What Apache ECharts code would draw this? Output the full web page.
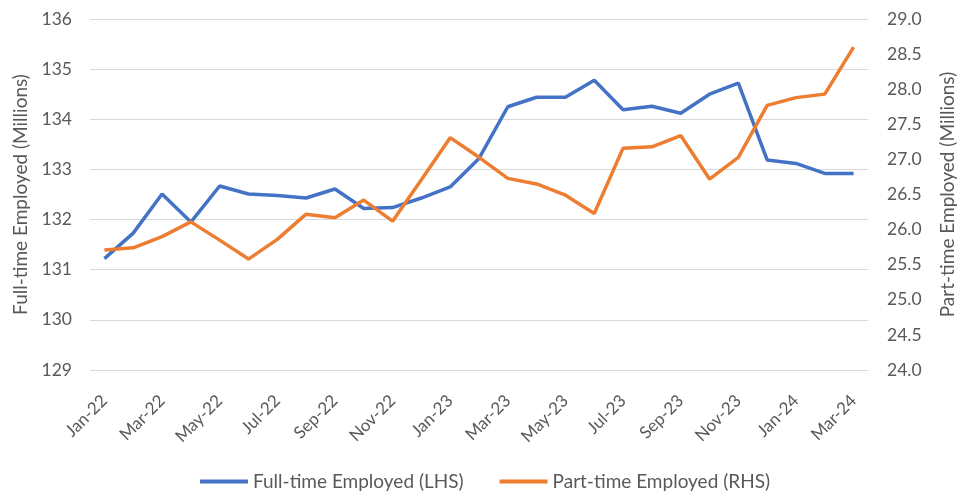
<!DOCTYPE html>
<html>
<head>
<meta charset="utf-8">
<script src="https://cdn.jsdelivr.net/npm/echarts@6/dist/echarts.min.js"></script>
<style>html,body{margin:0;padding:0;background:#fff}#c{width:965px;height:492px}</style>
</head>
<body>
<div id="c"></div>
<script>
const categories = ['Jan-22','Feb-22','Mar-22','Apr-22','May-22','Jun-22','Jul-22','Aug-22','Sep-22','Oct-22','Nov-22','Dec-22',
  'Jan-23','Feb-23','Mar-23','Apr-23','May-23','Jun-23','Jul-23','Aug-23','Sep-23','Oct-23','Nov-23','Dec-23',
  'Jan-24','Feb-24','Mar-24'];
const fullTime = [131.22,131.73,132.51,131.95,132.67,132.51,132.48,132.43,132.61,132.22,132.24,132.43,
  132.65,133.22,134.25,134.44,134.44,134.78,134.19,134.26,134.12,134.5,134.72,133.19,133.12,132.92,132.92];
const partTime = [25.71,25.74,25.9,26.11,25.85,25.58,25.86,26.22,26.17,26.42,26.12,26.71,
  27.31,27.03,26.73,26.65,26.49,26.23,27.16,27.18,27.34,26.72,27.03,27.77,27.88,27.93,28.6];
const leftTicks = [129,130,131,132,133,134,135,136];
const rightTicks = [24.0,24.5,25.0,25.5,26.0,26.5,27.0,27.5,28.0,28.5,29.0];

const font = 'Lato, "Open Sans", sans-serif';
const txt = '#595959';
const chart = echarts.init(document.getElementById('c'));
chart.setOption({
  animation: false,
  textStyle: {fontFamily: font},
  grid: {left: 90, right: 92, top: 19, bottom: 122},
  legend: {
    top: 472, left: 200, padding: 0,
    itemWidth: 48, itemHeight: 4, itemGap: 36,
    icon: 'rect',
    textStyle: {fontSize: 19, color: txt, fontFamily: font},
    data: ['Full-time Employed (LHS)', 'Part-time Employed (RHS)']
  },
  xAxis: {
    type: 'category', data: categories, boundaryGap: true,
    axisLine: {show: false}, axisTick: {show: false},
    axisLabel: {interval: 1, rotate: 45, fontSize: 17, color: txt, margin: 28, fontFamily: font}
  },
  yAxis: [{
    type: 'value', min: leftTicks[0], max: leftTicks[leftTicks.length-1], interval: 1,
    name: 'Full-time Employed (Millions)', nameLocation: 'middle', nameGap: 60, nameRotate: 90,
    nameTextStyle: {fontSize: 19, color: txt, fontFamily: font},
    axisLine: {show: false}, axisTick: {show: false},
    axisLabel: {fontSize: 17.5, color: txt, margin: 18, fontFamily: font},
    splitLine: {lineStyle: {color: '#d9d9d9', width: 1}}
  }, {
    type: 'value', min: rightTicks[0], max: rightTicks[rightTicks.length-1], interval: 0.5,
    name: 'Part-time Employed (Millions)', nameLocation: 'middle', nameGap: 70, nameRotate: 90,
    nameTextStyle: {fontSize: 19, color: txt, fontFamily: font},
    axisLine: {show: false}, axisTick: {show: false},
    axisLabel: {fontSize: 17.5, color: txt, margin: 19, fontFamily: font, formatter: v => v.toFixed(1)},
    splitLine: {show: false}
  }],
  series: [{
    name: 'Full-time Employed (LHS)', type: 'line', yAxisIndex: 0, data: fullTime,
    symbol: 'none', lineStyle: {width: 3.5, color: '#4472C4'}, itemStyle: {color: '#4472C4'}
  }, {
    name: 'Part-time Employed (RHS)', type: 'line', yAxisIndex: 1, data: partTime,
    symbol: 'none', lineStyle: {width: 3.5, color: '#ED7D31'}, itemStyle: {color: '#ED7D31'}
  }]
});
</script>
</body>
</html>
